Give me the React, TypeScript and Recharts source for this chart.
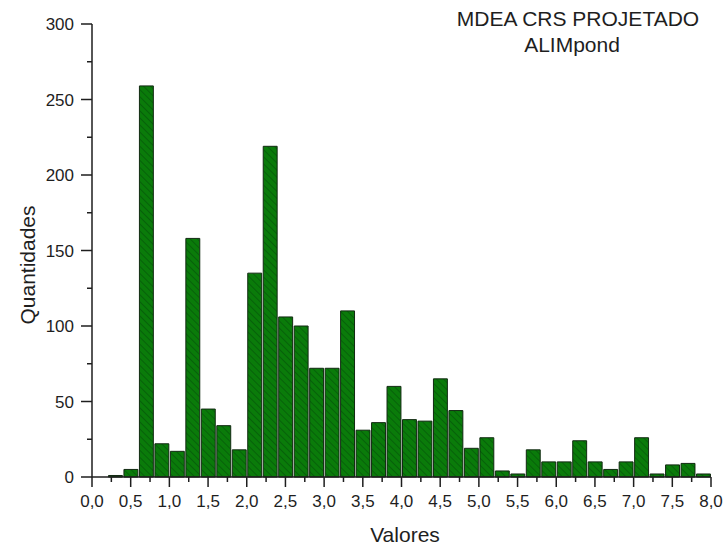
import { ComposedChart, Bar, XAxis, YAxis } from "recharts";

const FONT = '"Liberation Sans", Arial, sans-serif';
const INK = "#1e1e1e";

// histogram bins (start of each 0,2 wide bin) and counts
const binStart = [
    0.0, 0.2, 0.4, 0.6, 0.8, 1.0, 1.2, 1.4, 1.6, 1.8,
    2.0, 2.2, 2.4, 2.6, 2.8, 3.0, 3.2, 3.4, 3.6, 3.8,
    4.0, 4.2, 4.4, 4.6, 4.8, 5.0, 5.2, 5.4, 5.6, 5.8,
    6.0, 6.2, 6.4, 6.6, 6.8, 7.0, 7.2, 7.4, 7.6, 7.8,
];
const counts = [
    0, 1, 5, 259, 22, 17, 158, 45, 34, 18,
    135, 219, 106, 100, 72, 72, 110, 31, 36, 60,
    38, 37, 65, 44, 19, 26, 4, 2, 18, 10,
    10, 24, 10, 5, 10, 26, 2, 8, 9, 2,
];
const binWidth = 0.2;

const xTicks = [
    0, 0.25, 0.5, 0.75, 1, 1.25, 1.5, 1.75, 2, 2.25, 2.5, 2.75, 3, 3.25, 3.5, 3.75,
    4, 4.25, 4.5, 4.75, 5, 5.25, 5.5, 5.75, 6, 6.25, 6.5, 6.75, 7, 7.25, 7.5, 7.75, 8,
];
const yTicks = [0, 25, 50, 75, 100, 125, 150, 175, 200, 225, 250, 275, 300];

const titleLines = ["MDEA CRS PROJETADO", "ALIMpond"];
const xTitle = "Valores";
const yTitle = "Quantidades";

const data = binStart.map((s, i) => ({ mid: s + binWidth / 2, count: counts[i] }));

const W = 726;
const H = 550;
const M = { top: 24, right: 15, bottom: 0, left: 0 };
const Y_W = 92;
const X_H = 73;
const barPx = (W - M.left - M.right - Y_W) / binStart.length;

function XTick(props: any) {
    const { x, y, payload } = props;
    const v = payload.value as number;
    const major = Math.abs(v * 2 - Math.round(v * 2)) < 1e-6;
    return (
        <g>
            <line x1={x} x2={x} y1={y} y2={y + (major ? 10 : 5)} stroke={INK} strokeWidth={1.5} />
            {major && (
                <text x={x} y={y + 30} textAnchor="middle" fontSize={17} fontFamily={FONT} fill={INK}>
                    {v.toFixed(1).replace(".", ",")}
                </text>
            )}
        </g>
    );
}

function YTick(props: any) {
    const { x, y, payload } = props;
    const v = payload.value as number;
    const major = v % 50 === 0;
    return (
        <g>
            <line x1={x} x2={x - (major ? 11 : 5)} y1={y} y2={y} stroke={INK} strokeWidth={1.5} />
            {major && (
                <text x={x - 18} y={y + 6} textAnchor="end" fontSize={17} fontFamily={FONT} fill={INK}>
                    {v}
                </text>
            )}
        </g>
    );
}

export default function App() {
    return (
        <div style={{ position: "absolute", left: 0, top: 0, width: W, height: H, background: "#fff" }}>
            <ComposedChart width={W} height={H} data={data} margin={M} barCategoryGap={0} barGap={0}>
                <defs>
                    <pattern id="hatch" patternUnits="userSpaceOnUse" width={5} height={5} patternTransform="rotate(-45)">
                        <rect width={5} height={5} fill="#0a7b0a" />
                        <line x1={0} y1={0} x2={0} y2={5} stroke="#05520a" strokeWidth={1.3} />
                    </pattern>
                </defs>
                <XAxis
                    dataKey="mid"
                    type="number"
                    domain={[0, 8]}
                    allowDataOverflow
                    ticks={xTicks}
                    interval={0}
                    tickSize={0}
                    tickMargin={0}
                    tick={<XTick />}
                    height={X_H}
                    axisLine={{ stroke: INK, strokeWidth: 1.5 }}
                />
                <YAxis
                    domain={[0, 300]}
                    ticks={yTicks}
                    interval={0}
                    tickSize={0}
                    tickMargin={0}
                    tick={<YTick />}
                    width={Y_W}
                    axisLine={{ stroke: INK, strokeWidth: 1.5 }}
                />
                <Bar
                    dataKey="count"
                    barSize={barPx}
                    fill="url(#hatch)"
                    stroke="#122a12"
                    strokeWidth={1}
                    isAnimationActive={false}
                />
            </ComposedChart>
            <svg width={W} height={H} style={{ position: "absolute", left: 0, top: 0, pointerEvents: "none" }}>
                <text x={578} y={26} textAnchor="middle" fontSize={21} fontFamily={FONT} fill={INK}>
                    {titleLines[0]}
                </text>
                <text x={572} y={52} textAnchor="middle" fontSize={21} fontFamily={FONT} fill={INK}>
                    {titleLines[1]}
                </text>
                <text x={405} y={542} textAnchor="middle" fontSize={21} fontFamily={FONT} fill={INK}>
                    {xTitle}
                </text>
                <text
                    x={35}
                    y={265}
                    textAnchor="middle"
                    fontSize={21}
                    fontFamily={FONT}
                    fill={INK}
                    transform="rotate(-90 35 265)"
                >
                    {yTitle}
                </text>
            </svg>
        </div>
    );
}
